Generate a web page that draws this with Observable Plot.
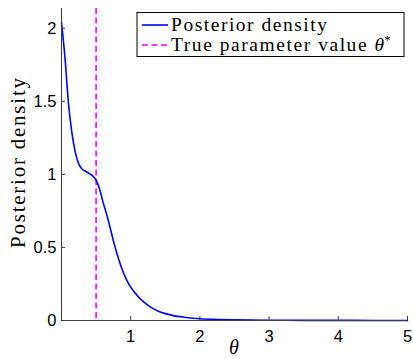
<!DOCTYPE html>
<html>
<head>
<meta charset="utf-8">
<script src="https://cdn.jsdelivr.net/npm/d3@7"></script>
<script src="https://cdn.jsdelivr.net/npm/@observablehq/plot@0.6"></script>
<style>
  html, body { margin: 0; padding: 0; background: #fff; }
  #chart svg { display: block; }
</style>
</head>
<body>
<div id="chart"></div>
<script>
// Posterior density curve (theta, density)
const theta = [0, 0.05, 0.1, 0.15, 0.2, 0.25, 0.3, 0.35, 0.4, 0.45, 0.5, 0.55, 0.6, 0.65, 0.7, 0.75, 0.8, 0.85, 0.9, 0.95, 1.0, 1.1, 1.2, 1.3, 1.4, 1.5, 1.6, 1.8, 2.0, 2.25, 2.5, 3, 3.5, 4, 4.5, 5];
const density = [2.04, 1.80, 1.49, 1.285, 1.15, 1.07, 1.035, 1.02, 1.005, 0.99, 0.96, 0.90, 0.81, 0.73, 0.64, 0.545, 0.46, 0.385, 0.322, 0.27, 0.228, 0.168, 0.122, 0.088, 0.064, 0.047, 0.035, 0.021, 0.012, 0.007, 0.004, 0.002, 0.001, 0.0007, 0.0004, 0.0003];
// True parameter value
const trueTheta = [0.5];
// Axes
const xTicks = [1, 2, 3, 4, 5];
const yTicks = [0, 0.5, 1, 1.5, 2];
const xDomain = [0, 5];
const yDomain = [0, 2.135];
const legendLabels = ["Posterior density", "True parameter value "];

const data = theta.map((t, i) => ({theta: t, density: density[i]}));

const axisColor = "#3c3c3c";
const chart = Plot.plot({
  width: 413,
  height: 359,
  marginLeft: 61,
  marginRight: 6,
  marginTop: 8,
  marginBottom: 39,
  x: {domain: xDomain},
  y: {domain: yDomain},
  style: {fontFamily: "'Liberation Sans', Arial, sans-serif", fontSize: "16.5px", background: "#fff", color: "#000"},
  marks: [
    Plot.ruleX(trueTheta, {stroke: "#ff00ff", strokeWidth: 1.6, strokeDasharray: "6,3.5"}),
    Plot.line(data, {x: "theta", y: "density", stroke: "#0000ff", strokeWidth: 1.6, curve: "monotone-x"}),
    Plot.ruleX([xDomain[0]], {stroke: axisColor, strokeWidth: 1}),
    Plot.ruleY([yDomain[0]], {stroke: axisColor, strokeWidth: 1}),
    Plot.axisX({ticks: xTicks, tickSize: -4, tickPadding: 14, tickFormat: d => String(d), label: null, stroke: axisColor, fill: "#000"}),
    Plot.axisY({ticks: yTicks, tickSize: -4, tickPadding: 9, tickFormat: d => String(d), label: null, stroke: axisColor, fill: "#000"})
  ]
});

document.getElementById("chart").appendChild(chart);

// Labels and legend
const svg = d3.select(chart);
const serif = "'Liberation Serif', 'Times New Roman', serif";

svg.append("text")
  .attr("transform", "translate(25,163) rotate(-90)")
  .attr("text-anchor", "middle")
  .attr("font-family", serif)
  .attr("font-size", 21)
  .attr("textLength", 170)
  .attr("lengthAdjust", "spacing")
  .attr("fill", "#000")
  .text("Posterior density");

svg.append("text")
  .attr("x", 234).attr("y", 354)
  .attr("text-anchor", "middle")
  .attr("font-family", serif)
  .attr("font-style", "italic")
  .attr("font-size", 20)
  .attr("fill", "#000")
  .text("θ");

const lg = svg.append("g").attr("text-anchor", "start");
lg.append("rect")
  .attr("x", 137).attr("y", 12.5).attr("width", 267).attr("height", 44)
  .attr("fill", "#fff").attr("stroke", "#000").attr("stroke-width", 1);
lg.append("line").attr("x1", 142).attr("x2", 168).attr("y1", 25).attr("y2", 25)
  .attr("stroke", "#0000ff").attr("stroke-width", 1.6);
lg.append("line").attr("x1", 142).attr("x2", 168).attr("y1", 45).attr("y2", 45)
  .attr("stroke", "#ff00ff").attr("stroke-width", 1.6).attr("stroke-dasharray", "6,3.5");
lg.append("text").attr("x", 171).attr("y", 31)
  .attr("text-anchor", "start")
  .attr("font-family", serif).attr("font-size", 19.5).attr("fill", "#000")
  .attr("textLength", 156).attr("lengthAdjust", "spacing")
  .text(legendLabels[0]);
const t2 = lg.append("text").attr("x", 171).attr("y", 51)
  .attr("text-anchor", "start")
  .attr("font-family", serif).attr("font-size", 19.5).attr("fill", "#000");
t2.append("tspan").attr("textLength", 202).attr("lengthAdjust", "spacing").text(legendLabels[1]);
t2.append("tspan").attr("font-style", "italic").text("θ");
t2.append("tspan").attr("font-size", 13).attr("dy", -7).text("*");
</script>
</body>
</html>
